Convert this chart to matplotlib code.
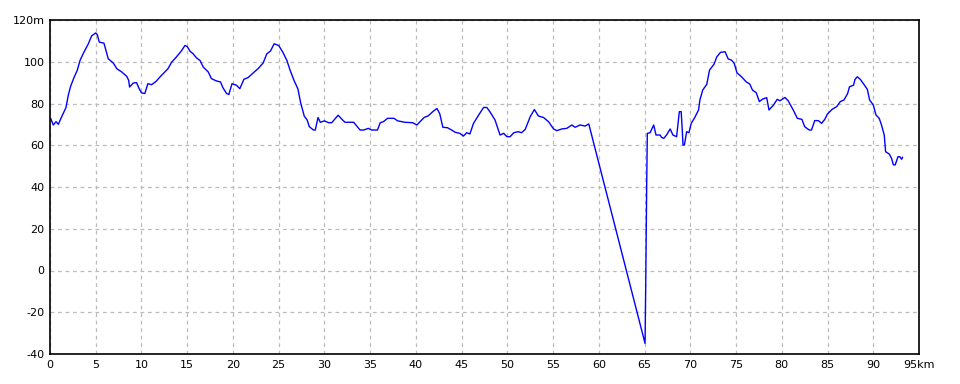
import numpy as np
import matplotlib
matplotlib.use("Agg")
import matplotlib.pyplot as plt

# distance (km) and elevation (m)
dist = [0.07, 0.36, 0.66, 0.91, 1.27, 1.75, 2.0, 2.26, 2.62, 2.98, 3.28, 3.64, 4.19, 4.55,
        5.0, 5.17, 5.39, 5.9, 6.37, 6.92, 7.3, 7.84, 8.39, 8.6, 8.7, 9.1, 9.46, 9.75,
        10.0, 10.37, 10.7, 11.1, 11.6, 12.0, 12.55, 12.9, 13.3, 13.8, 14.4, 14.75,
        15.0, 15.3, 15.65, 16.0, 16.4, 16.75, 17.3, 17.65, 18.2, 18.65, 18.9, 19.3, 19.55,
        19.9, 20.4, 20.75, 21.2, 21.65, 22.2, 22.75, 23.3, 23.7, 24.1, 24.5,
        25.0, 25.45, 25.9, 26.25, 26.7, 27.1, 27.4, 27.8, 28.1, 28.35, 28.8, 29.0,
        29.3, 29.55, 30.0, 30.45, 30.8, 31.2, 31.5, 31.9, 32.25, 33.2, 33.5, 33.9,
        34.3, 34.8, 35.15, 35.8, 36.1, 36.45, 36.9, 37.6, 38.0, 38.8, 39.65, 40.1,
        40.45, 40.9, 41.35, 41.9, 42.3, 42.6, 42.95, 43.45, 43.9, 44.3, 44.8, 45.2,
        45.55, 45.9, 46.3, 46.85, 47.4, 47.75, 48.1, 48.65, 49.2, 49.6, 49.95, 50.3,
        50.7, 51.2, 51.55, 51.95, 52.5, 52.95, 53.4, 53.95, 54.5, 55.05, 55.4, 55.95,
        56.5, 57.05, 57.4, 57.95, 58.5, 58.9,
        65.05, 65.12, 65.23, 65.3, 65.6, 66.0, 66.25, 66.7, 66.85, 67.1, 67.4, 67.8,
        68.1, 68.5, 68.8, 69.0, 69.1, 69.2, 69.35, 69.6, 69.85, 70.1, 70.5, 70.9,
        71.05, 71.35, 71.8, 72.1, 72.6, 72.9, 73.3, 73.8, 74.15, 74.5, 74.8, 75.1,
        75.6, 76.1, 76.5, 76.8, 77.2, 77.55, 77.9, 78.35, 78.6, 79.1, 79.5, 79.8,
        80.35, 80.7, 81.25, 81.7, 82.2, 82.5, 83.0, 83.25, 83.6, 84.0, 84.35, 84.7,
        85.0, 85.5, 86.0, 86.4, 86.8, 87.2, 87.4, 87.85, 88.0, 88.25, 88.6, 88.9,
        89.35, 89.6, 90.0, 90.3, 90.65, 90.9, 91.2, 91.35, 91.75, 92.0, 92.2, 92.4,
        92.7, 92.9, 93.1, 93.2]
elev = [72.9, 69.7, 71.3, 70.0, 73.6, 78.1, 84.0, 88.3, 92.4, 95.9, 100.6, 104.0, 108.6, 112.4,
        113.8, 113.0, 109.4, 108.9, 101.4, 99.4, 96.7, 95.1, 93.0, 91.1, 87.9, 89.8, 90.0, 87.1,
        85.1, 84.8, 89.5, 89.0, 90.6, 92.6, 95.1, 96.7, 99.8, 102.2, 105.4, 107.8,
        107.3, 105.1, 103.8, 101.9, 100.6, 97.5, 95.1, 91.9, 90.8, 90.3, 87.6, 84.8, 84.3,
        89.5, 88.7, 87.1, 91.6, 92.4, 94.6, 96.7, 99.4, 103.8, 105.1, 108.6,
        107.8, 104.6, 100.6, 95.9, 90.8, 87.0, 80.4, 73.9, 72.2, 68.9, 67.3, 67.3,
        73.3, 71.0, 71.7, 70.8, 70.8, 72.9, 74.4, 72.5, 71.0, 71.0, 69.4, 67.3,
        67.3, 68.1, 67.3, 67.3, 70.8, 71.3, 72.9, 72.9, 71.7, 71.0, 70.8, 69.7,
        71.3, 73.3, 74.1, 76.3, 77.6, 75.2, 68.6, 68.4, 67.3, 66.2, 65.7, 64.4,
        66.0, 65.4, 70.5, 74.4, 78.1, 78.1, 76.0, 72.1, 64.9, 65.7, 64.1, 64.1,
        66.0, 66.5, 66.0, 67.6, 73.7, 77.1, 74.0, 73.3, 71.3, 67.8, 67.0, 67.8,
        68.1, 69.7, 68.6, 69.7, 69.2, 70.2,
        -34.9, -9.3, 41.0, 65.7, 66.0, 69.7, 64.9, 64.9, 63.8, 63.3, 64.9, 67.8,
        64.9, 64.1, 76.1, 76.1, 68.9, 60.1, 60.1, 66.5, 66.0, 70.5, 73.4, 76.9,
        81.7, 86.4, 89.2, 96.0, 98.9, 102.4, 104.5, 104.8, 101.3, 100.8, 99.2, 94.7,
        92.8, 90.4, 89.3, 86.4, 85.2, 80.9, 82.1, 82.8, 76.9, 79.3, 82.0, 81.3,
        82.9, 81.3, 76.9, 72.9, 72.4, 68.9, 67.3, 67.3, 71.8, 71.8, 70.5, 72.4,
        75.0, 77.2, 78.5, 80.9, 81.7, 84.8, 88.0, 88.8, 91.5, 92.8, 91.5, 89.6,
        86.8, 81.7, 79.3, 74.5, 72.9, 69.7, 64.9, 56.9, 55.8, 53.7, 50.6, 50.6,
        54.5, 54.5, 53.3, 54.2]

xticks = list(range(0, 96, 5))
yticks = list(range(-40, 121, 20))
xlabels = [str(v) for v in xticks[:-1]] + ["95km"]
ylabels = [str(v) for v in yticks[:-1]] + ["120m"]

fig = plt.figure(figsize=(9.6, 3.84), dpi=100)
ax = fig.add_axes([50 / 960, 30 / 384, 869 / 960, 334 / 384])
ax.plot(dist, elev, color="#0000ff", lw=1.0)

ax.set_xlim(0, 95)
ax.set_ylim(-40, 120)
ax.set_xticks(xticks)
ax.set_xticklabels(xlabels)
ax.set_yticks(yticks)
ax.set_yticklabels(ylabels)
ax.tick_params(length=0, labelsize=8, pad=4)
ax.grid(True, color="#bbbbbb", ls=(0, (3, 3)), lw=0.9)
for s in ax.spines.values():
    s.set_linewidth(1.2)
    s.set_color("black")

fig.savefig("out.png", dpi=100, facecolor="white")
